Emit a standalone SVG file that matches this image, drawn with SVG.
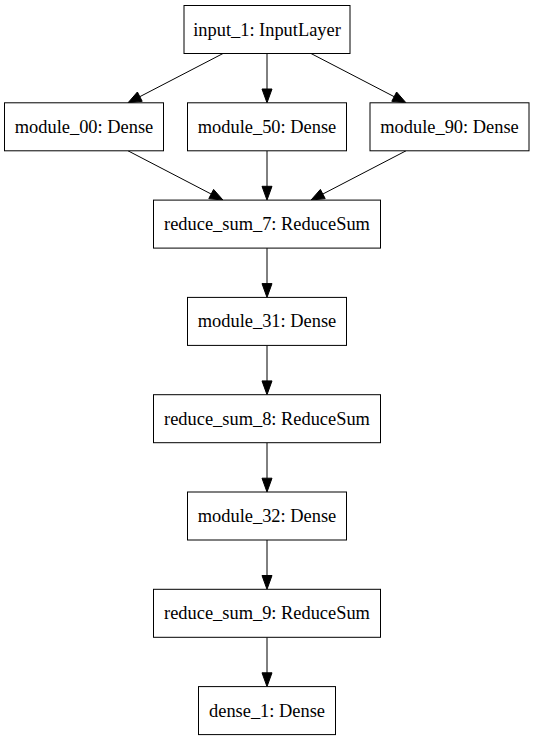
<svg xmlns="http://www.w3.org/2000/svg" width="535" height="741" viewBox="0 0 535 741">
<style>
.box{fill:#fff;stroke:#000;stroke-width:1}
.lbl{font-family:"Liberation Serif","Times New Roman",serif;font-size:18.4px;fill:#000;text-anchor:middle}
.edge{stroke:#000;stroke-width:1;fill:none}
.head{fill:#000;stroke:#000;stroke-width:1}
</style>
<rect width="535" height="741" fill="#fff"/>
<g id="connectors">
<line class="edge" x1="223" y1="53.5" x2="139.8" y2="96.7"/>
<polygon class="head" points="128,102.8 142.2,101.3 137.4,92"/>
<line class="edge" x1="267" y1="53.5" x2="267" y2="89.5"/>
<polygon class="head" points="267,102.8 262,89 272,89"/>
<line class="edge" x1="311" y1="53.5" x2="394.2" y2="96.7"/>
<polygon class="head" points="406,102.8 391.8,101.3 396.6,92"/>
<line class="edge" x1="128" y1="150.8" x2="211.16" y2="194.04"/>
<polygon class="head" points="223,200.1 208.8,198.6 213.6,189.4"/>
<line class="edge" x1="267" y1="150.8" x2="267" y2="186.8"/>
<polygon class="head" points="267,200.1 262,186.3 272,186.3"/>
<line class="edge" x1="406" y1="150.8" x2="322.84" y2="194.04"/>
<polygon class="head" points="311,200.1 325.2,198.6 320.4,189.4"/>
<line class="edge" x1="267" y1="248.1" x2="267" y2="284.1"/>
<polygon class="head" points="267,297.4 262,283.6 272,283.6"/>
<line class="edge" x1="267" y1="345.4" x2="267" y2="381.4"/>
<polygon class="head" points="267,394.7 262,380.9 272,380.9"/>
<line class="edge" x1="267" y1="442.7" x2="267" y2="478.7"/>
<polygon class="head" points="267,492 262,478.2 272,478.2"/>
<line class="edge" x1="267" y1="540" x2="267" y2="576"/>
<polygon class="head" points="267,589.3 262,575.5 272,575.5"/>
<line class="edge" x1="267" y1="637.3" x2="267" y2="673.3"/>
<polygon class="head" points="267,686.6 262,672.8 272,672.8"/>
</g>
<g id="input_1">
<rect class="box" x="184" y="5.5" width="166" height="48"/>
<text class="lbl" x="267" y="35.5">input_1: InputLayer</text>
</g>
<g id="module_00">
<rect class="box" x="4.5" y="102.8" width="159" height="48"/>
<text class="lbl" x="84" y="132.8">module_00: Dense</text>
</g>
<g id="module_50">
<rect class="box" x="187.5" y="102.8" width="159" height="48"/>
<text class="lbl" x="267" y="132.8">module_50: Dense</text>
</g>
<g id="module_90">
<rect class="box" x="370" y="102.8" width="159" height="48"/>
<text class="lbl" x="449.5" y="132.8">module_90: Dense</text>
</g>
<g id="reduce_sum_7">
<rect class="box" x="153.5" y="200.1" width="227" height="48"/>
<text class="lbl" x="267" y="230.1">reduce_sum_7: ReduceSum</text>
</g>
<g id="module_31">
<rect class="box" x="187.5" y="297.4" width="159" height="48"/>
<text class="lbl" x="267" y="327.4">module_31: Dense</text>
</g>
<g id="reduce_sum_8">
<rect class="box" x="153.5" y="394.7" width="227" height="48"/>
<text class="lbl" x="267" y="424.7">reduce_sum_8: ReduceSum</text>
</g>
<g id="module_32">
<rect class="box" x="187.5" y="492" width="159" height="48"/>
<text class="lbl" x="267" y="522">module_32: Dense</text>
</g>
<g id="reduce_sum_9">
<rect class="box" x="153.5" y="589.3" width="227" height="48"/>
<text class="lbl" x="267" y="619.3">reduce_sum_9: ReduceSum</text>
</g>
<g id="dense_1">
<rect class="box" x="198.5" y="686.6" width="137" height="48"/>
<text class="lbl" x="267" y="716.6">dense_1: Dense</text>
</g>
</svg>
